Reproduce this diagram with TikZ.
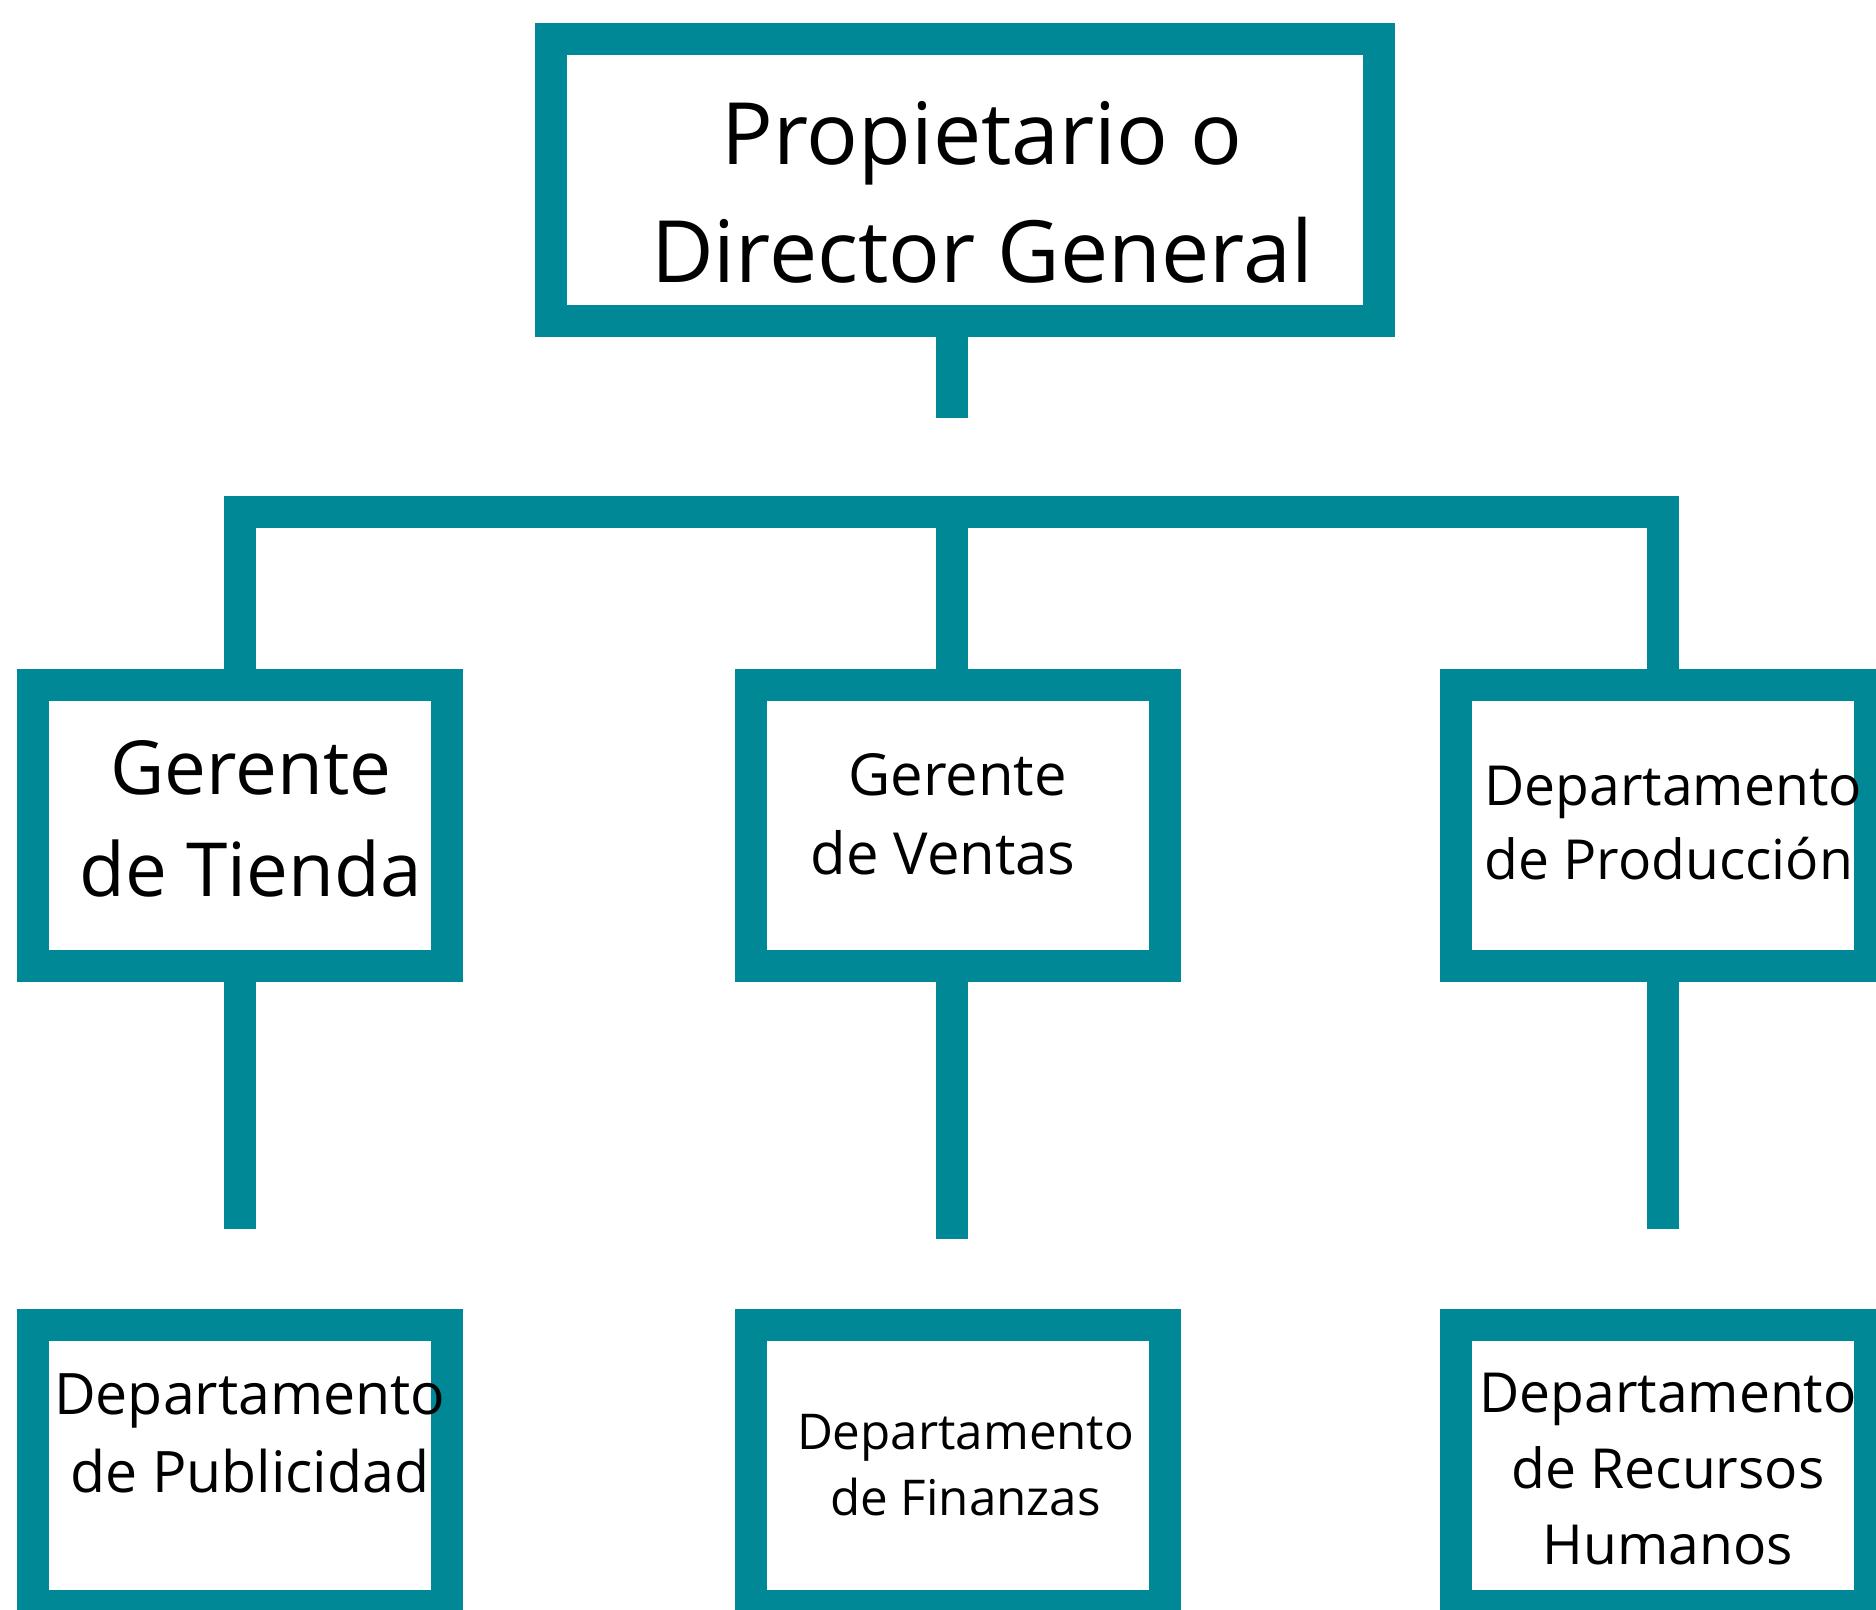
\documentclass[tikz,border=0pt]{standalone}
\usepackage{fontspec}
\setmainfont{Open Sans}
\definecolor{orgteal}{RGB}{0,136,150}
\tikzset{
    box/.style={draw=orgteal, line width=16pt, inner sep=0pt, outer sep=0pt,
        minimum width=207pt, minimum height=140.5pt},
    boxtext/.style={inner sep=0pt, align=center},
    link/.style={draw=orgteal, line width=16pt},
}

\begin{document}
\begin{tikzpicture}[x=0.5pt, y=-0.5pt]
    \useasboundingbox (0,0) rectangle (1876,1610);
    \clip (0,0) rectangle (1876,1610);
    % boxes
    \node[box, minimum width=414pt, minimum height=141pt] (owner) at (965,180.5) {};
    \node[box] (tienda) at (239.75,825.5) {};
    \node[box] (ventas) at (957.6,825.5) {};
    \node[box] (produccion) at (1663,825.5) {};
    \node[box] (publicidad) at (239.75,1465.5) {};
    \node[box] (finanzas) at (957.6,1465.5) {};
    \node[box] (rrhh) at (1663,1465.5) {};

    % texts
    \node[boxtext, font=\fontsize{43}{59}\selectfont] (ownertext) at ([shift={(17,12)}]owner.center) {Propietario o\\Director General};
    \node[boxtext, font=\fontsize{37.3}{51}\selectfont] (tiendatext) at ([shift={(11,-7)}]tienda.center) {Gerente\\de Tienda};
    \node[boxtext, font=\fontsize{29}{39.5}\selectfont] (ventastext) at ([shift={(0,-11)}]ventas.center) {Gerente\\de Ventas\kern0.5em};
    \node[boxtext, align=left, anchor=west, font=\fontsize{27.6}{37}\selectfont] (producciontext) at (1484,823) {Departamento\\de Producción};
    \node[boxtext, font=\fontsize{28.6}{39}\selectfont] (publicidadtext) at ([shift={(10,-32)}]publicidad.center) {Departamento\\de Publicidad};
    \node[boxtext, font=\fontsize{24.65}{33}\selectfont] (finanzastext) at ([shift={(8,0)}]finanzas.center) {Departamento\\de Finanzas};
    \node[boxtext, font=\fontsize{27.6}{38}\selectfont] (rrhhtext) at ([shift={(5,4)}]rrhh.center) {Departamento\\de Recursos\\Humanos};

    \coordinate (bar) at (951.5,512);
    \coordinate (ownerend) at (951.5,418);
    \coordinate (tiendaend) at (239.75,1229);
    \coordinate (ventasend) at (951.5,1238.7);
    \coordinate (produccionend) at (1663,1229);

    % connectors
    \draw[link] (owner.south -| bar) -- (ownerend);
    \draw[link] (tienda.north) -- (tienda.north |- bar) -- (produccion.north |- bar) -- (produccion.north);
    \draw[link] (bar) -- (bar |- ventas.north);
    \draw[link] (tienda.south) -- (tiendaend);
    \draw[link] (ventas.south -| bar) -- (ventasend);
    \draw[link] (produccion.south) -- (produccionend);
\end{tikzpicture}
\end{document}
